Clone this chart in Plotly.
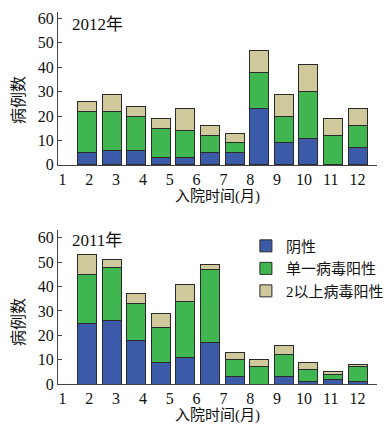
import numpy as np
import plotly.graph_objects as go
from plotly.subplots import make_subplots

months = list(range(1, 13))
tick_labels = [str(m) for m in months]

neg_2012 = [5, 6, 6, 3, 3, 5, 5, 23, 9, 11, 0, 7]
single_2012 = [17, 16, 14, 12, 11, 7, 4, 15, 11, 19, 12, 9]
multi_2012 = [4, 7, 4, 4, 9, 4, 4, 9, 9, 11, 7, 7]

neg_2011 = [25, 26, 18, 9, 11, 17, 3, 0, 3, 1, 2, 1]
single_2011 = [20, 22, 15, 14, 23, 30, 7, 7, 9, 5, 2, 6]
multi_2011 = [8, 3, 4, 6, 7, 2, 3, 3, 4, 3, 1, 1]

series_names = ["阴性", "单一病毒阳性", "2以上病毒阳性"]
colors = ["#3b5ba9", "#3fb650", "#cfc99b"]

FONT = "Liberation Serif, Noto Sans CJK SC"

fig = make_subplots(rows=2, cols=1, vertical_spacing=0.0)

for row, data, show in [(1, [neg_2012, single_2012, multi_2012], False),
                        (2, [neg_2011, single_2011, multi_2011], True)]:
    for name, vals, col in zip(series_names, data, colors):
        fig.add_trace(go.Bar(
            x=months, y=vals, name=name, legendgroup=name, showlegend=show,
            marker=dict(color=col, line=dict(color="#2a2a2a", width=1)),
            width=0.77,
        ), row=row, col=1)

# tick label positions (labels in the original are spread slightly wider than bars)
tickvals = list(np.linspace(0, 12, len(tick_labels)))

xcommon = dict(range=[-0.18, 12.79], tickvals=tickvals, ticktext=tick_labels,
               showline=True, linecolor="#444", linewidth=1, ticks="",
               showgrid=False, zeroline=False,
               tickfont=dict(family=FONT, size=16, color="#111"))
ycommon = dict(tickvals=[0, 10, 20, 30, 40, 50, 60], showline=True,
               linecolor="#444", linewidth=1, ticks="inside", ticklen=4,
               tickcolor="#444", showgrid=False, zeroline=False,
               tickfont=dict(family=FONT, size=16, color="#111"))

# the page body adds an 8px margin, so the figure is 384x423 drawn at (8, 8)
fig.update_layout(
    barmode="stack",
    width=384, height=423,
    margin=dict(l=50, r=15, t=4, b=47, autoexpand=False),
    paper_bgcolor="white", plot_bgcolor="white",
    font=dict(family=FONT, size=16, color="#111"),
    xaxis=dict(**xcommon, domain=[0, 1]),
    xaxis2=dict(**xcommon, domain=[0, 1]),
    yaxis=dict(**ycommon, range=[0, 62.6], domain=[0.589, 1.0]),
    yaxis2=dict(**ycommon, range=[0, 63.2], domain=[0.0, 0.414]),
    legend=dict(x=0.589, y=0.415, xanchor="left", yanchor="top",
                bgcolor="rgba(0,0,0,0)", font=dict(family=FONT, size=15),
                tracegroupgap=0, itemwidth=30),
    showlegend=True,
)

def px_to_yfrac(py):
    return (384 - py) / 372.0

def px_to_xfrac(px):
    return (px - 58) / 319.0

annots = [
    dict(text="2012年", x=px_to_xfrac(70), y=px_to_yfrac(25), xref="paper", yref="paper",
         xanchor="left", yanchor="middle", showarrow=False, font=dict(size=17)),
    dict(text="2011年", x=px_to_xfrac(70), y=px_to_yfrac(240), xref="paper", yref="paper",
         xanchor="left", yanchor="middle", showarrow=False, font=dict(size=17)),
    dict(text="入院时间(月)", x=0.5, y=px_to_yfrac(196), xref="paper", yref="paper",
         xanchor="center", yanchor="middle", showarrow=False, font=dict(size=15)),
    dict(text="入院时间(月)", x=0.5, y=px_to_yfrac(415), xref="paper", yref="paper",
         xanchor="center", yanchor="middle", showarrow=False, font=dict(size=15)),
    dict(text="病例数", x=px_to_xfrac(18), y=px_to_yfrac(100), xref="paper", yref="paper",
         xanchor="center", yanchor="middle", showarrow=False, textangle=-90, font=dict(size=16)),
    dict(text="病例数", x=px_to_xfrac(18), y=px_to_yfrac(322), xref="paper", yref="paper",
         xanchor="center", yanchor="middle", showarrow=False, textangle=-90, font=dict(size=16)),
]
fig.update_layout(annotations=annots)

fig.write_html("out.html")
